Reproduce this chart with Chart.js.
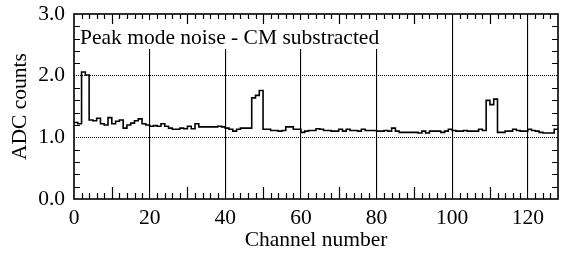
<!DOCTYPE html>
<html>
<head>
<meta charset="utf-8">
<script src="https://cdn.jsdelivr.net/npm/chart.js@4/dist/chart.umd.min.js"></script>
<style>
  html, body { margin: 0; padding: 0; background: #fff; }
  #wrap { width: 566px; height: 258px; }
</style>
</head>
<body>
<div id="wrap"><canvas id="graph-canva" width="566" height="258"></canvas></div>
<script>
// noise per channel (ADC counts)
const noise = [
  1.24, 1.22, 2.06, 2.01, 1.28, 1.27, 1.31, 1.22, 1.20, 1.32, 1.22, 1.26, 1.28, 1.15, 1.20, 1.23,
  1.27, 1.30, 1.22, 1.20, 1.18, 1.19, 1.18, 1.22, 1.18, 1.15, 1.13, 1.13, 1.15, 1.14, 1.18, 1.14,
  1.22, 1.17, 1.17, 1.17, 1.17, 1.17, 1.18, 1.17, 1.15, 1.13, 1.10, 1.13, 1.15, 1.15, 1.15, 1.64,
  1.68, 1.76, 1.13, 1.13, 1.11, 1.11, 1.10, 1.11, 1.17, 1.17, 1.13, 1.13, 1.08, 1.10, 1.11, 1.11,
  1.14, 1.13, 1.11, 1.11, 1.10, 1.10, 1.13, 1.10, 1.13, 1.11, 1.11, 1.10, 1.13, 1.11, 1.11, 1.11,
  1.10, 1.10, 1.11, 1.10, 1.15, 1.10, 1.08, 1.08, 1.08, 1.08, 1.08, 1.07, 1.10, 1.07, 1.10, 1.10,
  1.10, 1.08, 1.10, 1.13, 1.11, 1.10, 1.10, 1.11, 1.10, 1.10, 1.10, 1.13, 1.11, 1.60, 1.53, 1.62,
  1.08, 1.08, 1.10, 1.10, 1.13, 1.11, 1.10, 1.10, 1.13, 1.11, 1.10, 1.08, 1.07, 1.07, 1.07, 1.13
];
const xTicks = [0, 20, 40, 60, 80, 100, 120];
const yTicks = [0, 1, 2, 3];
const xRange = [0, 128];
const yRange = [0, 3];
const label = 'Peak mode noise - CM substracted';
const xTitle = 'Channel number';
const yTitle = 'ADC counts';

const serif = "'Liberation Serif', 'Times New Roman', serif";

// histogram edges: channel i spans [i, i+1]
let points = noise.map((v, i) => ({x: i, y: v}));
points.push({x: noise.length, y: noise[noise.length - 1]});

// frame, inward ticks and the boxed label
const framePlugin = {
  id: 'frame',
  afterDatasetsDraw(chart) {
    const ctx = chart.ctx;
    const a = chart.chartArea;
    const xs = chart.scales.x, ys = chart.scales.y;

    ctx.save();
    ctx.font = '21.5px ' + serif;
    const w = ctx.measureText(label).width;
    ctx.fillStyle = '#fff';
    ctx.fillRect(a.left + 1, a.top + 6, w + 10, 29);
    ctx.fillStyle = '#000';
    ctx.textBaseline = 'alphabetic';
    ctx.fillText(label, a.left + 6, a.top + 30);

    ctx.strokeStyle = '#000';
    ctx.lineWidth = 1.2;
    ctx.beginPath();
    for (let c = xRange[0] + 2; c < xRange[1]; c += 2) {
      if (c % 20 == 0) continue;
      const px = Math.round(xs.getPixelForValue(c)) + 0.5;
      const lb = (c % 10 == 0) ? 12 : 6;
      const lt = (c % 10 == 0) ? 10 : 5;
      ctx.moveTo(px, a.bottom); ctx.lineTo(px, a.bottom - lb);
      ctx.moveTo(px, a.top); ctx.lineTo(px, a.top + lt);
    }
    for (let k = 1; k < 15; k++) {
      if (k % 5 == 0) continue;
      const py = Math.round(ys.getPixelForValue(k * 0.2)) + 0.5;
      ctx.moveTo(a.left, py); ctx.lineTo(a.left + 6, py);
      ctx.moveTo(a.right, py); ctx.lineTo(a.right - 6, py);
    }
    ctx.stroke();

    ctx.lineWidth = 1.6;
    ctx.strokeRect(a.left, a.top, a.right - a.left, a.bottom - a.top);
    ctx.restore();
  }
};

const config = {
  type: 'line',
  data: {
    datasets: [{
      data: points,
      borderColor: '#000',
      borderWidth: 1.6,
      pointRadius: 0,
      stepped: 'before',
      fill: false
    }]
  },
  options: {
    responsive: false,
    animation: false,
    layout: { padding: { left: 0, right: 8, top: 14, bottom: 0 } },
    plugins: {
      legend: { display: false },
      tooltip: { enabled: false }
    },
    scales: {
      x: {
        type: 'linear',
        min: xRange[0],
        max: xRange[1],
        afterBuildTicks: s => { s.ticks = xTicks.map(v => ({value: v})); },
        afterFit: s => { s.height = 59; s.paddingLeft = 0; s.paddingRight = 0; },
        ticks: {
          color: '#000',
          font: { family: serif, size: 21.5 },
          padding: 6,
          maxRotation: 0,
          autoSkip: false
        },
        grid: {
          drawTicks: false,
          color: c => (c.tick && c.tick.value > xRange[0] && c.tick.value < xRange[1]) ? '#000' : 'rgba(0,0,0,0)',
          lineWidth: 1.1
        },
        border: { display: false },
        title: {
          display: true,
          text: xTitle,
          color: '#000',
          font: { family: serif, size: 21.5 },
          padding: { top: 0, bottom: 5 }
        }
      },
      y: {
        min: yRange[0],
        max: yRange[1],
        afterBuildTicks: s => { s.ticks = yTicks.map(v => ({value: v})); },
        afterFit: s => { s.width = 74; s.paddingTop = 0; s.paddingBottom = 0; },
        ticks: {
          color: '#000',
          font: { family: serif, size: 21.5 },
          padding: 9,
          callback: v => v.toFixed(1)
        },
        grid: {
          drawTicks: false,
          color: c => (c.tick && c.tick.value > yRange[0] && c.tick.value < yRange[1]) ? '#000' : 'rgba(0,0,0,0)',
          lineWidth: 1
        },
        border: { display: false, dash: [1, 1] },
        title: {
          display: true,
          text: yTitle,
          color: '#000',
          font: { family: serif, size: 21.5 },
          padding: { top: 7, bottom: 0 }
        }
      }
    }
  },
  plugins: [framePlugin]
};

let chart = new Chart(document.getElementById('graph-canva'), config);
</script>
</body>
</html>
